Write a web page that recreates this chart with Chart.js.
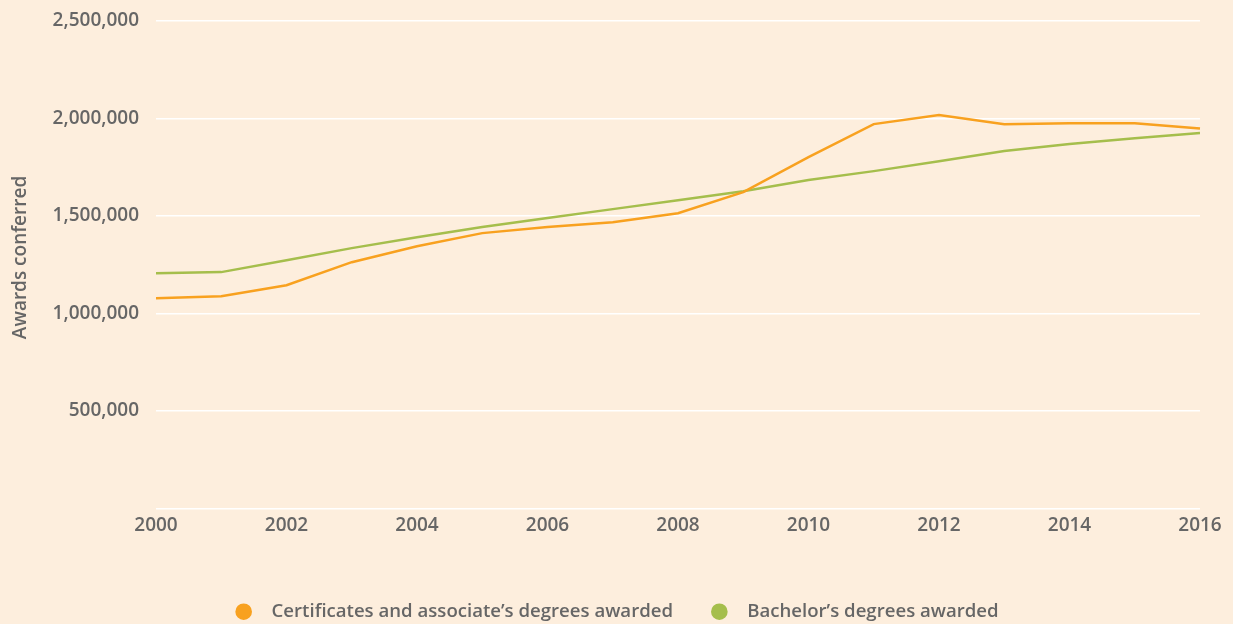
<!DOCTYPE html>
<html>
<head>
<meta charset="utf-8">
<script src="https://cdn.jsdelivr.net/npm/chart.js@4/dist/chart.umd.min.js"></script>
<style>
  html, body { margin: 0; padding: 0; background: #fdeedd; }
  #wrap { width: 1233px; height: 624px; }
</style>
</head>
<body>
<div id="wrap"><canvas id="awardsChart" width="1233" height="624"></canvas></div>
<script>
const years = ["2000", "2001", "2002", "2003", "2004", "2005", "2006", "2007", "2008",
  "2009", "2010", "2011", "2012", "2013", "2014", "2015", "2016"];

const certificatesAssociates = [1078000, 1088000, 1145000, 1263000, 1345000, 1412000, 1443000,
  1468000, 1514000, 1622000, 1802000, 1971000, 2018000, 1971000, 1976000, 1976000, 1948000];

const bachelors = [1206000, 1212000, 1273000, 1335000, 1391000, 1443000, 1489000, 1535000,
  1581000, 1627000, 1684000, 1730000, 1781000, 1833000, 1869000, 1899000, 1925000];

const yTicks = [500000, 1000000, 1500000, 2000000, 2500000];

const textColor = "#666666";
const font = { family: "'Open Sans'", size: 19, weight: "600" };

function renderAwardsChart() {
  const ctx = document.getElementById("awardsChart").getContext("2d");

  new Chart(ctx, {
    type: "line",
    data: {
      labels: years,
      datasets: [
        {
          label: "Certificates and associate\u2019s degrees awarded",
          data: certificatesAssociates,
          borderColor: "#f8a11f",
          backgroundColor: "#f8a11f",
          borderWidth: 2.5,
          pointRadius: 0,
          tension: 0,
        },
        {
          label: "Bachelor\u2019s degrees awarded",
          data: bachelors,
          borderColor: "#a5be4c",
          backgroundColor: "#a5be4c",
          borderWidth: 2.5,
          pointRadius: 0,
          tension: 0,
        },
      ],
    },
    options: {
      responsive: false,
      animation: false,
      layout: { padding: { left: 0, right: 0, top: 0, bottom: -7 } },
      plugins: {
        legend: {
          display: true,
          position: "bottom",
          labels: {
            usePointStyle: true,
            pointStyle: "circle",
            boxWidth: 19,
            boxHeight: 10,
            padding: 37,
            color: textColor,
            font: { family: "'Open Sans'", size: 18.6, weight: "600" },
            generateLabels: (chart) =>
              Chart.defaults.plugins.legend.labels.generateLabels(chart).map((item) => {
                item.text = "\u2002" + item.text;
                return item;
              }),
          },
        },
        tooltip: { enabled: false },
      },
      scales: {
        x: {
          grid: { display: false, drawTicks: false },
          border: { display: false },
          afterFit: (scale) => {
            scale.height = 57;
            scale.paddingLeft = 0;
            scale.paddingRight = 33;
          },
          ticks: {
            color: textColor,
            font: font,
            maxRotation: 0,
            autoSkip: false,
            padding: 6,
            callback: function (value, index) {
              return index % 2 === 0 ? years[index] : "";
            },
          },
        },
        y: {
          min: 0,
          max: 2500000,
          afterBuildTicks: (scale) => {
            scale.ticks = [{ value: 0 }].concat(yTicks.map((v) => ({ value: v })));
          },
          afterFit: (scale) => {
            scale.width = 156;
            scale.paddingTop = 21;
          },
          grid: { color: "#ffffff", lineWidth: 1.5, drawTicks: false },
          border: { display: false },
          ticks: {
            color: textColor,
            font: font,
            padding: 17,
            callback: (v) => (v === 0 ? "" : v.toLocaleString("en-US")),
          },
          title: {
            display: true,
            text: "\u2002 Awards conferred",
            color: textColor,
            font: font,
            padding: { top: 9, bottom: 0 },
          },
        },
      },
    },
  });
}

document.addEventListener("DOMContentLoaded", () => {
  renderAwardsChart();
});
</script>
</body>
</html>
